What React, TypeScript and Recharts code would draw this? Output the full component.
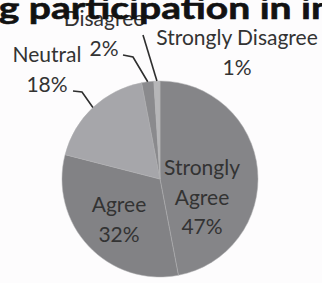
import React from 'react';
import { PieChart, Pie, Cell } from 'recharts';

const categories = ['Strongly Agree', 'Agree', 'Neutral', 'Disagree', 'Strongly Disagree'];
const percentages = [47, 32, 18, 2, 1];
const labelNameLines = [['Strongly', 'Agree'], ['Agree'], ['Neutral'], ['Disagree'], ['Strongly Disagree']];
const titleText = 'g participation in in';

const COLORS = ['#858588', '#828285', '#a6a6aa', '#8a8a8d', '#b6b6b8'];

// label layout, in pixels relative to pie centre (for radius 98)
const LAYOUT: { x: number; y: number; pts?: number[][] }[] = [
  { x: 42, y: -4 },
  { x: -41, y: 33 },
  { x: -113, y: -117, pts: [[-78, -87], [-87, -88]] },
  { x: -56, y: -153, pts: [[-27, -122], [-37, -124]] },
  { x: 77, y: -134, pts: [[-17, -144]] },
];

const data = categories.map((name, i) => ({ name, value: percentages[i] }));
const RAD = Math.PI / 180;
const LINE_H = 29.5;

const renderLabel = (props: any) => {
  const { cx, cy, midAngle, outerRadius, index } = props;
  const k = outerRadius / 98;
  const lay = LAYOUT[index];
  const lines = [...labelNameLines[index], `${percentages[index]}%`];
  const x = cx + lay.x * k;
  const y = cy + lay.y * k;
  let poly: string | null = null;
  if (lay.pts) {
    const ex = cx + outerRadius * Math.cos(-midAngle * RAD);
    const ey = cy + outerRadius * Math.sin(-midAngle * RAD);
    const p = [[ex, ey], ...lay.pts.map(([px, py]) => [cx + px * k, cy + py * k])];
    poly = p.map((q) => q.join(',')).join(' ');
  }
  return (
    <g key={`lbl-${index}`}>
      {poly && <polyline points={poly} fill="none" stroke="#2e2e2e" strokeWidth={1.6} />}
      <text
        x={x}
        y={y}
        textAnchor="middle"
        fontFamily="Lato, sans-serif"
        fontSize={21}
        fill="#333"
      >
        {lines.map((l, j) => (
          <tspan key={j} x={x} dy={j === 0 ? 0 : LINE_H}>
            {l}
          </tspan>
        ))}
      </text>
    </g>
  );
};

export default function App() {
  return (
    <div style={{ position: 'absolute', left: 0, top: 0, width: 322, height: 283, overflow: 'hidden', background: '#fdfcfd' }}>
      <PieChart width={322} height={283} margin={{ top: 0, right: 0, bottom: 0, left: 0 }}>
        <Pie
          data={data}
          dataKey="value"
          nameKey="name"
          cx={160}
          cy={179}
          outerRadius={98}
          startAngle={90}
          endAngle={-270}
          stroke="#b0b0b3"
          strokeWidth={0.5}
          label={renderLabel}
          labelLine={false}
          isAnimationActive={false}
        >
          {data.map((d, i) => (
            <Cell key={d.name} fill={COLORS[i]} />
          ))}
        </Pie>
      </PieChart>
      <svg width={322} height={283} style={{ position: 'absolute', left: 0, top: 0, pointerEvents: 'none' }}>
        <text
          x={-1}
          y={19}
          transform="scale(1.3,1)"
          fontFamily="Lato, sans-serif"
          fontWeight={700}
          fontSize={30}
          fill="#121212"
          stroke="#121212"
          strokeWidth={0.6}
        >
          {titleText}
        </text>
      </svg>
    </div>
  );
}
